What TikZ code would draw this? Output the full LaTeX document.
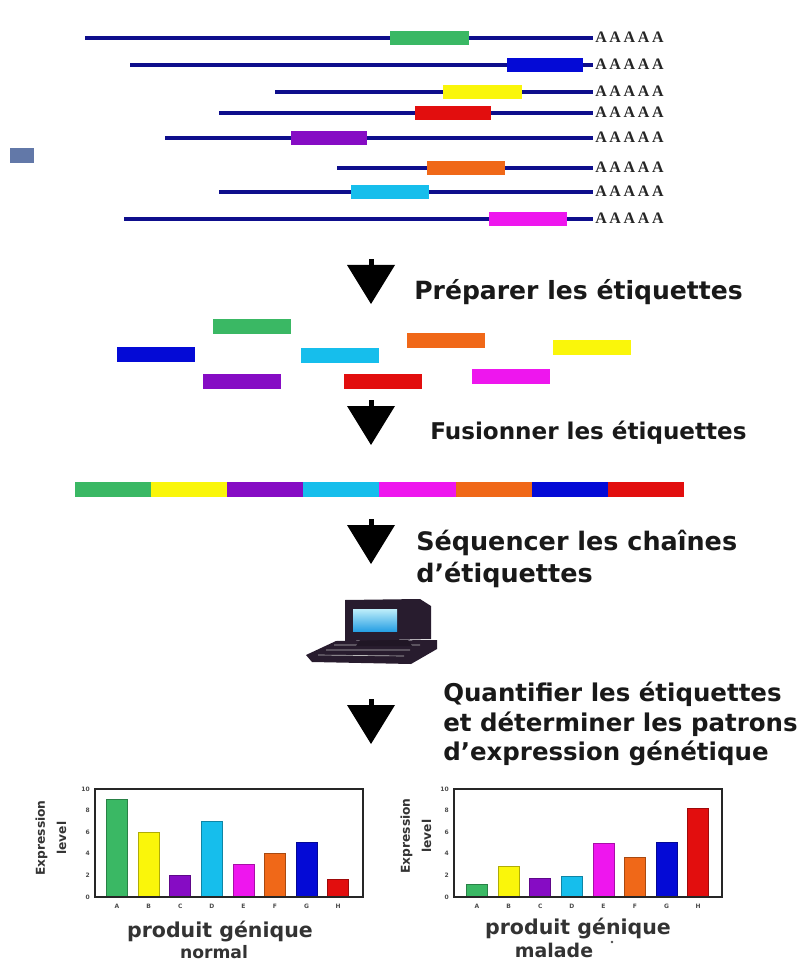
\documentclass[tikz,border=0pt]{standalone}
\usepackage{fontspec}
\usepackage{xcolor}
\usepackage{tikz}
\usetikzlibrary{positioning}

\newfontfamily\djv{DejaVu Sans}
\newfontfamily\libserif{Liberation Serif}

\definecolor{marine}{RGB}{14,14,140}
\definecolor{tagvert}{RGB}{58,184,100}
\definecolor{tagjaune}{RGB}{250,246,10}
\definecolor{tagviolet}{RGB}{134,12,196}
\definecolor{tagcyan}{RGB}{22,190,236}
\definecolor{tagmagenta}{RGB}{238,22,238}
\definecolor{tagorange}{RGB}{240,104,24}
\definecolor{tagbleu}{RGB}{4,10,214}
\definecolor{tagrouge}{RGB}{226,14,14}
\definecolor{carre}{RGB}{98,120,168}
\definecolor{pcnoir}{RGB}{40,28,46}
\definecolor{ecranclair}{RGB}{190,238,250}
\definecolor{ecranfonce}{RGB}{40,160,228}

\newcommand\polyA{A\kern2pt A\kern2pt A\kern2pt A\kern2pt A}

\tikzset{
  fleche/.pic={
    \fill (-2.5,0) rectangle (2.5,8);
    \fill (-24,6) -- (24,6) -- (0,45) -- cycle;
  }
}

\begin{document}
\begin{tikzpicture}[
  x=0.75pt, y=-0.75pt,
  arnm/.style={draw=marine, line width=3pt},
  polya/.style={font=\fontsize{12}{12}\selectfont\libserif\bfseries, anchor=base west, inner sep=0pt, text=black!85},
  etape/.style={font=\fontsize{18.8}{24}\selectfont\djv\bfseries, anchor=base west, inner sep=0pt, text=black!90},
  barre/.style={line width=0.6pt},
  cadre/.style={draw=black!85, line width=0.9pt},
  graduation/.style={font=\fontsize{4.5}{5}\selectfont\djv\bfseries, inner sep=0pt, text=black!70},
  axelabel/.style={font=\fontsize{9.2}{16}\selectfont\djv\bfseries, align=center, rotate=90, inner sep=0pt, text=black!80},
  legende/.style={font=\fontsize{15.4}{18}\selectfont\djv\bfseries, anchor=base, inner sep=0pt, text=black!80},
]
  \useasboundingbox (0,0) rectangle (803,962);

  % ── ARNm with their tags ──
  \foreach \y/\xa/\c/\ba/\bb [count=\i] in {38/85/tagvert/390/469, 65/130/tagbleu/507/583,
      92/275/tagjaune/443/522, 113/219/tagrouge/415/491, 138/165/tagviolet/291/367,
      168/337/tagorange/427/505, 192/219/tagcyan/351/429, 219/124/tagmagenta/489/567} {
    \draw[arnm] (\xa,\y) -- (593,\y);
    \fill[\c] (\ba,\y-7) rectangle (\bb,\y+7);
    \node[polya] (polya\i) at (595,\y+5) {\polyA};
  }
  \fill[carre] (10,148) rectangle (34,163);

  % ── Step 1 ──
  \pic at (371,259) {fleche};
  \node[etape] (prep) at (414,299) {Préparer les étiquettes};

  % ── Free tags ──
  \foreach \c/\xa/\ya in {tagvert/213/319, tagbleu/117/347, tagviolet/203/374, tagcyan/301/348,
      tagrouge/344/374, tagorange/407/333, tagmagenta/472/369, tagjaune/553/340}
    \fill[\c] (\xa,\ya) rectangle ++(78,14.5);

  % ── Step 2 ──
  \pic at (371,400) {fleche};
  \node[etape, font=\fontsize{17.3}{22}\selectfont\djv\bfseries] (fusion) at (430,439) {Fusionner les étiquettes};

  % ── Concatenated tags ──
  \foreach \c [count=\i from 0] in {tagvert, tagjaune, tagviolet, tagcyan, tagmagenta, tagorange, tagbleu, tagrouge}
    \fill[\c] (75+76.1*\i,482) rectangle ++(76.1,15);

  % ── Step 3 ──
  \pic at (371,519) {fleche};
  \node[etape, font=\fontsize{19.1}{24}\selectfont\djv\bfseries] (seq1) at (416,550) {Séquencer les chaînes};
  \node[etape, font=\fontsize{19.1}{24}\selectfont\djv\bfseries] (seq2) at (416,582) {d’étiquettes};

  % ── Computer ──
  \fill[pcnoir] (306,655) -- (336,641) -- (437,640) -- (437,649) -- (411,664) -- (312,662) -- cycle;
  \draw[gray!55, line width=0.5pt] (318,655) -- (404,656) (326,650) -- (410,650) (334,645) -- (420,645);
  \fill[pcnoir!80!black] (360,640) -- (408,640) -- (412,646) -- (356,646) -- cycle;
  \fill[pcnoir] (345,600) -- (420,599) -- (431,606) -- (431,639) -- (345,641) -- cycle;
  \shade[top color=ecranclair, bottom color=ecranfonce] (353,609) rectangle (397,631);

  % ── Step 4 ──
  \pic at (371,699) {fleche};
  \node[etape, font=\fontsize{18.35}{24}\selectfont\djv\bfseries] (quant1) at (443,701) {Quantifier les étiquettes};
  \node[etape, font=\fontsize{18.35}{24}\selectfont\djv\bfseries] (quant2) at (443,731) {et déterminer les patrons};
  \node[etape, font=\fontsize{18.35}{24}\selectfont\djv\bfseries] (quant3) at (443,760) {d’expression génétique};

  % ── Chart: normal ──
  \begin{scope}[shift={(95,897)}, yscale=-10.8]
    \foreach \c/\v [count=\i from 0] in {tagvert/9, tagjaune/6, tagviolet/2, tagcyan/7,
        tagmagenta/3, tagorange/4, tagbleu/5.1, tagrouge/1.6}
      \filldraw[barre, fill=\c, draw=\c!70!black] (11.5+31.6*\i,0) rectangle (32.5+31.6*\i,\v);
    \draw[cadre] (0,0) rectangle (268,10);
    \foreach \t in {0,2,...,10}
      \node[graduation, anchor=east] (gn\t) at (-5,\t) {\t};
    \foreach \l [count=\i from 0] in {A,...,H}
      \node[graduation] (xn\i) at (22+31.6*\i,-0.85) {\l};
  \end{scope}
  \node[axelabel] (ylab1) at (51,838) {Expression\\level};
  \node[legende] (prod1) at (220,937) {produit génique};
  \node[legende, font=\fontsize{12.9}{15}\selectfont\djv\bfseries] (etat1) at (214,958) {normal};

  % ── Chart: malade ──
  \begin{scope}[shift={(454,897)}, yscale=-10.8]
    \foreach \c/\v [count=\i from 0] in {tagvert/1.2, tagjaune/2.8, tagviolet/1.7, tagcyan/1.9,
        tagmagenta/5, tagorange/3.7, tagbleu/5.1, tagrouge/8.2}
      \filldraw[barre, fill=\c, draw=\c!70!black] (12.5+31.6*\i,0) rectangle (33.5+31.6*\i,\v);
    \draw[cadre] (0,0) rectangle (268,10);
    \foreach \t in {0,2,...,10}
      \node[graduation, anchor=east] (gm\t) at (-5,\t) {\t};
    \foreach \l [count=\i from 0] in {A,...,H}
      \node[graduation] (xm\i) at (23+31.6*\i,-0.85) {\l};
  \end{scope}
  \node[axelabel] (ylab2) at (416,836) {Expression\\level};
  \node[legende] (prod2) at (578,934) {produit génique};
  \node[legende, font=\fontsize{14.2}{17}\selectfont\djv\bfseries] (etat2) at (554,957) {malade};
  \fill[black!70] (612,942) circle (1.3);

\end{tikzpicture}
\end{document}
